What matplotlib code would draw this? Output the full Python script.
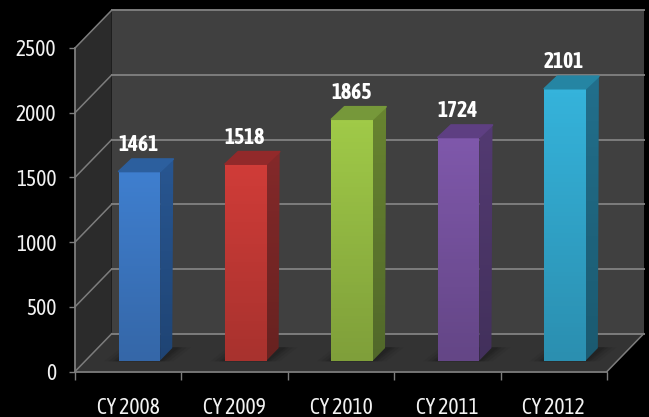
import numpy as np
import matplotlib
matplotlib.use("Agg")
import matplotlib.pyplot as plt
from matplotlib.colors import LinearSegmentedColormap
from matplotlib.patches import Polygon

categories = ["CY 2008", "CY 2009", "CY 2010", "CY 2011", "CY 2012"]
values = [1461, 1518, 1865, 1724, 2101]
y_ticks = [0, 500, 1000, 1500, 2000, 2500]

front_top = ["#3f7fcf", "#d03c38", "#a0ca48", "#7f58ab", "#35b3db"]
front_bot = ["#3567a8", "#a8322e", "#7f9f3a", "#644686", "#2b8fb0"]
side_top = ["#285691", "#84292a", "#688430", "#533a72", "#226f8c"]
side_bot = ["#1f4474", "#672220", "#51682a", "#42305b", "#1b5a70"]
top_col = ["#2c5f9e", "#92292a", "#76983a", "#5e3f82", "#2585a3"]

# depth of the 3d box, in data units per unit of depth
DX = 0.345
DY = 292
BAR_W = 0.39
D0, D1 = 0.29, 0.62

GRID = "#7d7d7d"
TEXT = "#f2f2f2"

plt.rcParams["font.family"] = ["Asap Condensed", "Carlito", "Liberation Sans", "DejaVu Sans"]

W, H = 649, 417
fig = plt.figure(figsize=(W / 100, H / 100), dpi=100, facecolor="black")
ax = fig.add_axes([75 / W, 1 - 371.5 / H, (607 - 75) / W, (371.5 - 48) / H])
ax.set_facecolor("none")


def pr(x, y, d):
    return (x + DX * d, y + DY * d)


def gradient(poly, c_top, c_bot, z):
    cmap = LinearSegmentedColormap.from_list("g", [c_bot, c_top])
    xs = [p[0] for p in poly]
    ys = [p[1] for p in poly]
    im = ax.imshow(np.linspace(1, 0, 64).reshape(-1, 1), cmap=cmap, aspect="auto",
                   extent=[min(xs), max(xs), min(ys), max(ys)], zorder=z, clip_on=True)
    patch = Polygon(poly, closed=True, transform=ax.transData)
    im.set_clip_path(patch)


n = len(categories)
ymax = y_ticks[-1]

# walls and floor
ax.add_patch(Polygon([pr(0, 0, 1), pr(n, 0, 1), pr(n, ymax, 1), pr(0, ymax, 1)],
                     fc="#404040", ec="none", zorder=1, clip_on=False))
ax.add_patch(Polygon([pr(0, 0, 0), pr(0, 0, 1), pr(0, ymax, 1), pr(0, ymax, 0)],
                     fc="#2b2b2b", ec="none", zorder=1, clip_on=False))
ax.add_patch(Polygon([pr(0, 0, 0), pr(n, 0, 0), pr(n, 0, 1), pr(0, 0, 1)],
                     fc="#333333", ec="none", zorder=1, clip_on=False))

# grid on both walls
for t in y_ticks:
    x0, y0 = pr(0, t, 1)
    x1, y1 = pr(n, t, 1)
    ax.plot([x0, x1], [y0, y1], color=GRID, lw=1.4, zorder=2, clip_on=False)
    xa, ya = pr(0, t, 0)
    ax.plot([xa, x0], [ya, y0], color=GRID, lw=1.1, zorder=2, clip_on=False)
xa, ya = pr(n, 0, 0)
xb, yb = pr(n, 0, 1)
ax.plot([xa, xb], [ya, yb], color=GRID, lw=1.1, zorder=2, clip_on=False)

# bars
for i, v in enumerate(values):
    l = i + 0.5 - BAR_W / 2 + 0.005
    r = i + 0.5 + BAR_W / 2 + 0.005

    # soft shadow on the floor
    for grow, a in [(0.13, 0.12), (0.09, 0.18), (0.05, 0.25), (0.02, 0.35)]:
        ax.add_patch(Polygon([pr(l - grow, 0, D0 - 0.02), pr(r + grow, 0, D0 - 0.02),
                              pr(r + grow + 0.04, 0, D1 + 0.02), pr(l - grow + 0.04, 0, D1 + 0.02)],
                             fc="#1c1c1c", ec="none", alpha=a, zorder=3, clip_on=False))

    front = [pr(l, 0, D0), pr(r, 0, D0), pr(r, v, D0), pr(l, v, D0)]
    side = [pr(r, 0, D0), pr(r, 0, D1), pr(r + 0.01, v, D1), pr(r, v, D0)]
    top = [pr(l, v, D0), pr(r, v, D0), pr(r + 0.01, v, D1), pr(l + 0.01, v, D1)]
    gradient(side, side_top[i], side_bot[i], 4)
    gradient(front, front_top[i], front_bot[i], 5)
    ax.add_patch(Polygon(top, fc=top_col[i], ec=top_col[i], lw=1.2, joinstyle="round",
                         zorder=5, clip_on=False))
    lx = pr((l + r) / 2, v, D0)[0]
    ly = pr(l, v, D1)[1]
    ax.annotate(str(v), xy=(lx, ly), xytext=(-1, 14), textcoords="offset pixels",
                ha="center", va="center", fontsize=15.5, fontweight="bold", color="white",
                zorder=6, annotation_clip=False)

ax.set_xlim(0, n)
ax.set_ylim(0, ymax)

# axes
for s in ["top", "right"]:
    ax.spines[s].set_visible(False)
for s in ["left", "bottom"]:
    ax.spines[s].set_color(GRID)
    ax.spines[s].set_linewidth(1.3)
    ax.spines[s].set_zorder(7)

ax.set_yticks(y_ticks)
ax.set_yticklabels([str(t) for t in y_ticks])
ax.set_xticks(range(n + 1))
ax.set_xticklabels([""] * (n + 1))
ax.set_xticks([i + 0.5 for i in range(n)], minor=True)
ax.set_xticklabels(categories, minor=True)
ax.tick_params(axis="y", which="major", colors=GRID, labelcolor=TEXT, length=4.5, width=1,
               labelsize=15.5, pad=9)
ax.tick_params(axis="x", which="major", colors=GRID, length=5.5, width=1)
ax.tick_params(axis="x", which="minor", length=0, labelcolor=TEXT, labelsize=15.5, pad=18)

fig.savefig("out.png", dpi=100, facecolor="black")
